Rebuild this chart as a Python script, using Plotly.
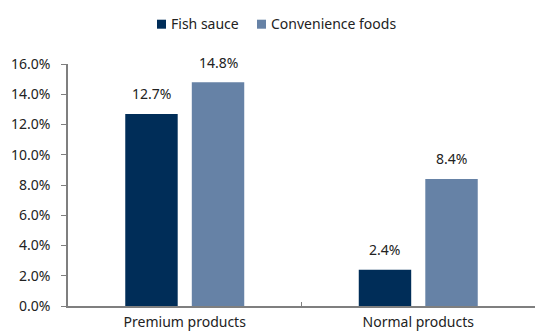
import plotly.graph_objects as go

categories = ["Premium products", "Normal products"]
series_names = ["Fish sauce", "Convenience foods"]
fish_sauce = [12.7, 2.4]
convenience_foods = [14.8, 8.4]
colors = ["#002D58", "#6682A6"]
y_ticks = [0, 2, 4, 6, 8, 10, 12, 14, 16]

FONT = "Noto Sans"
TXT = "#222222"
AXIS = "#7F7F7F"

W, H = 535, 331
ML, MR, MT, MB = 68, 0, 64, 25
PW, PH = W - ML - MR, H - MT - MB


def px_x(p):
    return (p - ML) / PW


def px_y(p):
    return (H - MB - p) / PH


fig = go.Figure()
values = [fish_sauce, convenience_foods]
for name, vals, col in zip(series_names, values, colors):
    fig.add_trace(go.Bar(x=categories, y=vals, name=name, marker_color=col,
                         marker_line_width=0, showlegend=False, hoverinfo="skip"))

# value labels
slot_px = 33.3
for i, vals in enumerate(values):
    shift = -slot_px if i == 0 else slot_px
    for c, v in zip(categories, vals):
        fig.add_annotation(x=c, y=v, xref="x", yref="y", text=f"{v:.1f}%",
                           showarrow=False, xshift=shift, yshift=20, yanchor="middle",
                           font=dict(family=FONT, size=14, color=TXT))

# legend (swatch + label)
legend_x = [157, 257]
for name, col, lx in zip(series_names, colors, legend_x):
    fig.add_shape(type="rect", xref="paper", yref="paper",
                  x0=px_x(lx), x1=px_x(lx + 9), y0=px_y(28.7), y1=px_y(19.7),
                  fillcolor=col, line_width=0)
    fig.add_annotation(xref="paper", yref="paper", x=px_x(lx + 12), y=px_y(23.5),
                       xanchor="left", yanchor="middle", showarrow=False, text=name,
                       font=dict(family=FONT, size=14, color=TXT))

fig.update_layout(
    width=W, height=H,
    margin=dict(l=ML, r=MR, t=MT, b=MB, autoexpand=False),
    paper_bgcolor="white", plot_bgcolor="white",
    barmode="group", bargap=0.43, bargroupgap=0.212,
    font=dict(family=FONT, size=14, color=TXT),
    showlegend=False,
)
fig.update_xaxes(type="category", range=[-0.5, 1.5], showline=True, linecolor=AXIS,
                 linewidth=1.5, ticks="inside", ticklen=4, tickcolor=AXIS,
                 tickson="boundaries", showgrid=False, zeroline=False,
                 ticklabelstandoff=2,
                 tickfont=dict(family=FONT, size=14, color=TXT))
fig.update_yaxes(range=[0, 16], tickvals=y_ticks,
                 ticktext=[f"{t:.1f}%" for t in y_ticks],
                 showline=True, linecolor=AXIS, linewidth=1.5, ticks="outside",
                 ticklen=5, tickcolor=AXIS, showgrid=False, zeroline=False,
                 ticklabelstandoff=8,
                 tickfont=dict(family=FONT, size=14, color=TXT))

fig.write_html("out.html", config={"displayModeBar": False},
               post_script="document.body.style.margin='0';document.body.style.padding='0';"
                           "document.body.style.overflow='hidden';")
